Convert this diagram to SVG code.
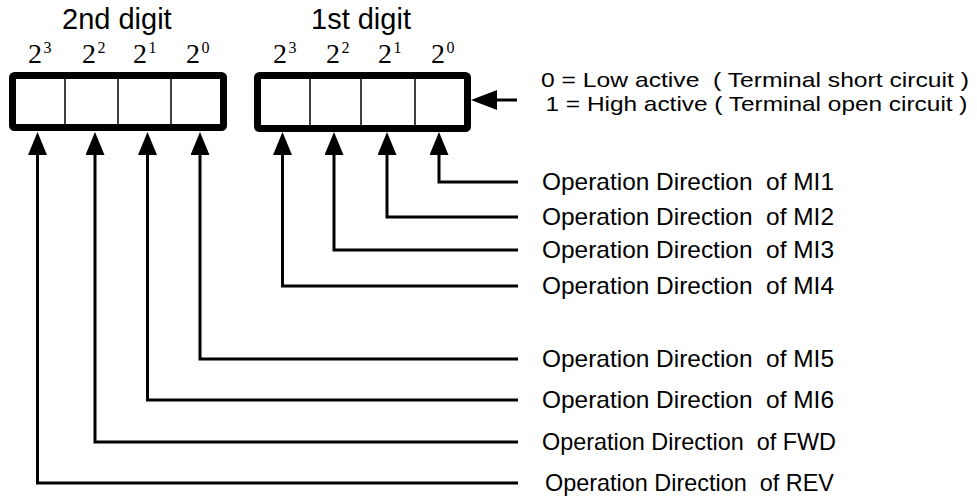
<svg xmlns="http://www.w3.org/2000/svg" width="977" height="499" viewBox="0 0 977 499">
<style>
.box{fill:#fff;stroke:#000;stroke-width:7}
.div{stroke:#000;stroke-width:1.5}
.con{fill:none;stroke:#000;stroke-width:3;stroke-linejoin:miter}
.t{font-family:"Liberation Sans",Arial,sans-serif;fill:#000;white-space:pre}
.title{font-size:29px}
.lbl{font-size:24px}
.lg{font-size:21px}
.pw{font-family:"Liberation Serif","Times New Roman",serif;font-size:28px;fill:#000}
.sup{font-family:"Liberation Serif","Times New Roman",serif;font-size:16px;fill:#000}
</style>
<defs>
<marker id="ah" viewBox="0 0 23 19" refX="0" refY="9.5" markerWidth="23" markerHeight="19" markerUnits="userSpaceOnUse" orient="auto">
<path d="M0,0 L23,9.5 L0,19 Z" fill="#000"/>
</marker>
<marker id="ah2" viewBox="0 0 26 20" refX="0" refY="10" markerWidth="26" markerHeight="20" markerUnits="userSpaceOnUse" orient="auto">
<path d="M0,0 L26,10 L0,20 Z" fill="#000"/>
</marker>
</defs>
<g id="digit2">
<text class="t title" x="62" y="29">2nd digit</text>
<text class="pw" x="28" y="63">2</text><text class="sup" x="43.5" y="53">3</text>
<text class="pw" x="82" y="63">2</text><text class="sup" x="97.5" y="53">2</text>
<text class="pw" x="133" y="63">2</text><text class="sup" x="148.5" y="53">1</text>
<text class="pw" x="186" y="63">2</text><text class="sup" x="201.5" y="53">0</text>
<rect class="box" x="12.5" y="75.5" width="211" height="52" rx="2"/>
<line class="div" x1="65" y1="79" x2="65" y2="124"/>
<line class="div" x1="118" y1="79" x2="118" y2="124"/>
<line class="div" x1="171" y1="79" x2="171" y2="124"/>
</g>
<g id="digit1">
<text class="t title" x="311" y="29">1st digit</text>
<text class="pw" x="273" y="63">2</text><text class="sup" x="288.5" y="53">3</text>
<text class="pw" x="326" y="63">2</text><text class="sup" x="341.5" y="53">2</text>
<text class="pw" x="378" y="63">2</text><text class="sup" x="393.5" y="53">1</text>
<text class="pw" x="431" y="63">2</text><text class="sup" x="446.5" y="53">0</text>
<rect class="box" x="257.5" y="75.5" width="210" height="53" rx="2"/>
<line class="div" x1="310" y1="79" x2="310" y2="125"/>
<line class="div" x1="361" y1="79" x2="361" y2="125"/>
<line class="div" x1="415" y1="79" x2="415" y2="125"/>
</g>
<g id="legend">
<text class="t lg" x="541" y="86.5" xml:space="preserve" textLength="428" lengthAdjust="spacingAndGlyphs">0 = Low active  ( Terminal short circuit )</text>
<text class="t lg" x="545.5" y="110.5" xml:space="preserve" textLength="422" lengthAdjust="spacingAndGlyphs">1 = High active ( Terminal open circuit )</text>
</g>
<g id="labels">
<text class="t lbl" x="542" y="190" xml:space="preserve" textLength="292" lengthAdjust="spacingAndGlyphs">Operation Direction  of MI1</text>
<text class="t lbl" x="542" y="225" xml:space="preserve" textLength="292" lengthAdjust="spacingAndGlyphs">Operation Direction  of MI2</text>
<text class="t lbl" x="542" y="258" xml:space="preserve" textLength="292" lengthAdjust="spacingAndGlyphs">Operation Direction  of MI3</text>
<text class="t lbl" x="542" y="294" xml:space="preserve" textLength="292" lengthAdjust="spacingAndGlyphs">Operation Direction  of MI4</text>
<text class="t lbl" x="542" y="367" xml:space="preserve" textLength="292" lengthAdjust="spacingAndGlyphs">Operation Direction  of MI5</text>
<text class="t lbl" x="542" y="408" xml:space="preserve" textLength="292" lengthAdjust="spacingAndGlyphs">Operation Direction  of MI6</text>
<text class="t lbl" x="542" y="450" xml:space="preserve" textLength="294" lengthAdjust="spacingAndGlyphs">Operation Direction  of FWD</text>
<text class="t lbl" x="545" y="491" xml:space="preserve" textLength="289" lengthAdjust="spacingAndGlyphs">Operation Direction  of REV</text>
</g>
<g id="connectors">
<path class="con" d="M517,100 H497" marker-end="url(#ah2)"/>
<path class="con" d="M518,182 H439 V155" marker-end="url(#ah)"/>
<path class="con" d="M518,217 H387 V155" marker-end="url(#ah)"/>
<path class="con" d="M518,250 H334 V155" marker-end="url(#ah)"/>
<path class="con" d="M518,286 H282.5 V155" marker-end="url(#ah)"/>
<path class="con" d="M518,359 H200 V155" marker-end="url(#ah)"/>
<path class="con" d="M518,400 H147.5 V155" marker-end="url(#ah)"/>
<path class="con" d="M518,442 H95 V155" marker-end="url(#ah)"/>
<path class="con" d="M518,483 H37.5 V155" marker-end="url(#ah)"/>
</g>
</svg>
